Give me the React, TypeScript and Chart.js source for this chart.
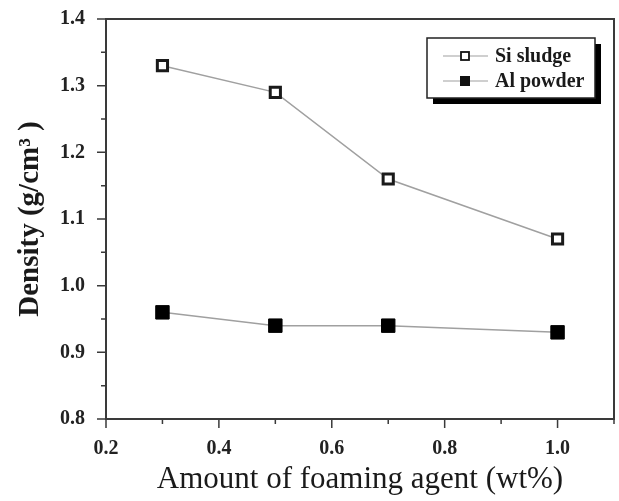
import React, { useEffect, useRef } from "react";
import { Chart, registerables } from "chart.js";

Chart.register(...registerables);

const xValues = [0.3, 0.5, 0.7, 1.0];
const siSludge = [1.33, 1.29, 1.16, 1.07];
const alPowder = [0.96, 0.94, 0.94, 0.93];
const xTickValues = [0.2, 0.4, 0.6, 0.8, 1.0];
const xMinorTicks = [0.3, 0.5, 0.7, 0.9, 1.1];
const yTickValues = [0.8, 0.9, 1.0, 1.1, 1.2, 1.3, 1.4];
const yMinorTicks = [0.85, 0.95, 1.05, 1.15, 1.25, 1.35];
const seriesNames = ["Si sludge", "Al powder"];

const FONT = "'Liberation Serif', 'Times New Roman', serif";
const AXIS = "#3a3a3a";
const LINE = "#a0a0a0";

const framePlugin = {
  id: "frame",
  afterDraw(chart: any) {
    const { ctx, chartArea } = chart;
    const { left, right, top, bottom } = chartArea;
    const xs = chart.scales.x;
    const ys = chart.scales.y;
    ctx.save();
    ctx.strokeStyle = AXIS;
    ctx.lineWidth = 2;
    ctx.strokeRect(left, top, right - left, bottom - top);
    ctx.lineWidth = 1.5;
    ctx.beginPath();
    for (const v of yTickValues) {
      const y = ys.getPixelForValue(v);
      ctx.moveTo(left - 9, y);
      ctx.lineTo(left, y);
    }
    for (const v of yMinorTicks) {
      const y = ys.getPixelForValue(v);
      ctx.moveTo(left - 5, y);
      ctx.lineTo(left, y);
    }
    for (const v of xTickValues) {
      const x = xs.getPixelForValue(v);
      ctx.moveTo(x, bottom);
      ctx.lineTo(x, bottom + 9);
    }
    for (const v of xMinorTicks) {
      const x = xs.getPixelForValue(v);
      ctx.moveTo(x, bottom);
      ctx.lineTo(x, bottom + 5);
    }
    ctx.stroke();

    // legend
    const bx = 427, by = 38, bw = 168, bh = 60;
    ctx.fillStyle = "#000";
    ctx.fillRect(bx + 6, by + 6, bw, bh);
    ctx.fillStyle = "#fff";
    ctx.fillRect(bx, by, bw, bh);
    ctx.strokeStyle = "#222";
    ctx.lineWidth = 1.5;
    ctx.strokeRect(bx, by, bw, bh);
    const rows = [56, 81];
    rows.forEach((ry, i) => {
      ctx.strokeStyle = LINE;
      ctx.lineWidth = 1.2;
      ctx.beginPath();
      ctx.moveTo(443, ry);
      ctx.lineTo(488, ry);
      ctx.stroke();
      if (i === 0) {
        ctx.fillStyle = "#fff";
        ctx.fillRect(461, ry - 4, 8, 8);
        ctx.strokeStyle = "#111";
        ctx.lineWidth = 1.8;
        ctx.strokeRect(461, ry - 4, 8, 8);
      } else {
        ctx.fillStyle = "#111";
        ctx.fillRect(460, ry - 5, 10, 10);
      }
      ctx.fillStyle = "#1a1a1a";
      ctx.font = `bold 20px ${FONT}`;
      ctx.textAlign = "left";
      ctx.textBaseline = "middle";
      ctx.fillText(seriesNames[i], 495, ry + 1);
    });
    ctx.restore();
  },
};

export default function App() {
  const ref = useRef<HTMLCanvasElement>(null);
  useEffect(() => {
    document.body.style.margin = "0";
    const chart = new Chart(ref.current as HTMLCanvasElement, {
      type: "line",
      data: {
        datasets: [
          {
            label: seriesNames[0],
            data: xValues.map((x, i) => ({ x, y: siSludge[i] })),
            borderColor: LINE,
            borderWidth: 1.5,
            pointStyle: "rect",
            pointRadius: 7.2,
            pointBorderWidth: 3,
            pointBorderColor: "#1a1a1a",
            pointBackgroundColor: "#fff",
            clip: false,
          },
          {
            label: seriesNames[1],
            data: xValues.map((x, i) => ({ x, y: alPowder[i] })),
            borderColor: LINE,
            borderWidth: 1.5,
            pointStyle: "rect",
            pointRadius: 9.5,
            pointBorderWidth: 1,
            pointBorderColor: "#000",
            pointBackgroundColor: "#000",
            clip: false,
          },
        ],
      },
      options: {
        animation: false,
        responsive: false,
        events: [],
        layout: { autoPadding: false, padding: { top: 19, right: 5, left: 0, bottom: 0 } },
        plugins: { legend: { display: false }, tooltip: { enabled: false } },
        scales: {
          x: {
            type: "linear",
            min: 0.2,
            max: 1.1,
            afterBuildTicks: (s: any) => {
              s.ticks = xTickValues.map((v) => ({ value: v }));
            },
            afterFit: (s: any) => {
              s.height = 82;
              s.paddingRight = 0;
              s.paddingLeft = 0;
            },
            grid: { display: false },
            border: { display: false },
            ticks: {
              padding: 10,
              color: "#222",
              font: { family: FONT, size: 20, weight: "bold" },
              callback: (v: any) => Number(v).toFixed(1),
              maxRotation: 0,
            },
            title: {
              display: true,
              text: "Amount of foaming agent (wt%)",
              color: "#1a1a1a",
              font: { family: FONT, size: 31, weight: "normal" },
              padding: { top: 0, bottom: 3 },
            },
          },
          y: {
            type: "linear",
            min: 0.8,
            max: 1.4,
            afterBuildTicks: (s: any) => {
              s.ticks = yTickValues.map((v) => ({ value: v }));
            },
            afterFit: (s: any) => {
              s.width = 106;
              s.paddingTop = 0;
              s.paddingBottom = 0;
            },
            grid: { display: false },
            border: { display: false },
            ticks: {
              padding: 13,
              color: "#222",
              font: { family: FONT, size: 20, weight: "bold" },
              callback: (v: any) => Number(v).toFixed(1),
            },
            title: {
              display: true,
              text: "Density (g/cm³ )",
              color: "#1a1a1a",
              font: { family: FONT, size: 29, weight: "bold" },
              padding: { top: 13, bottom: 0 },
            },
          },
        },
      },
      plugins: [framePlugin],
    } as any);
    return () => chart.destroy();
  }, []);
  return (
    <div style={{ width: 619, height: 501, background: "#fff" }}>
      <canvas ref={ref} width={619} height={501} />
    </div>
  );
}
